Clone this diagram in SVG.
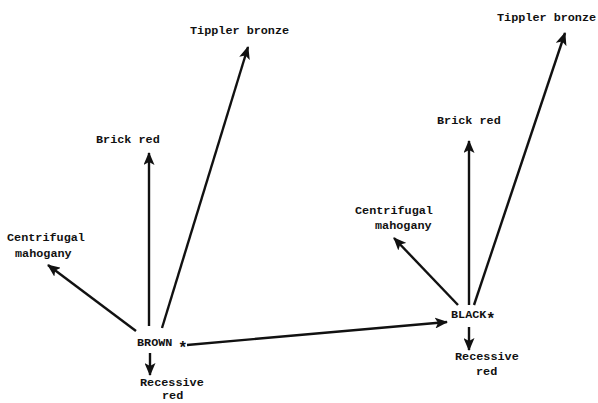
<svg xmlns="http://www.w3.org/2000/svg" width="598" height="403" viewBox="0 0 598 403">
<style>
text{font-family:"Liberation Mono","DejaVu Sans Mono",monospace;font-size:11.8px;font-weight:bold;fill:#111}
text.s{font-size:16px}
.c line{stroke:#111;stroke-width:2.4;marker-end:url(#ah)}
</style>
<defs>
<marker id="ah" viewBox="0 0 13 11" refX="12" refY="5.5" markerWidth="13" markerHeight="11" markerUnits="userSpaceOnUse" orient="auto">
<path d="M0,0 L13,5.5 L0,11 L3,5.5 Z" fill="#111"/>
</marker>
</defs>
<rect width="598" height="403" fill="#fff"/>
<g id="brown"><text x="137" y="346">BROWN</text><text class="s" x="178" y="353">*</text></g>
<g id="black"><text x="451" y="318">BLACK</text><text class="s" x="486" y="324">*</text></g>
<g id="tippler-l"><text x="190" y="34">Tippler bronze</text></g>
<g id="brick-l"><text x="96" y="143">Brick red</text></g>
<g id="centri-l"><text x="7" y="241">Centrifugal</text><text x="15" y="257">mahogany</text></g>
<g id="reces-l"><text x="140" y="386">Recessive</text><text x="162" y="399">red</text></g>
<g id="tippler-r"><text x="497" y="21">Tippler bronze</text></g>
<g id="brick-r"><text x="437" y="124">Brick red</text></g>
<g id="centri-r"><text x="355" y="214">Centrifugal</text><text x="375" y="229">mahogany</text></g>
<g id="reces-r"><text x="455" y="360">Recessive</text><text x="476" y="375">red</text></g>
<g class="c" id="connectors">
<line x1="149" y1="326" x2="149" y2="153"/>
<line x1="162" y1="328" x2="248" y2="47"/>
<line x1="136" y1="331" x2="48" y2="265"/>
<line x1="150" y1="353" x2="150" y2="375"/>
<line x1="187" y1="345" x2="447" y2="322"/>
<line x1="469" y1="305" x2="469" y2="141"/>
<line x1="474" y1="305" x2="565" y2="33"/>
<line x1="458" y1="305" x2="394" y2="238"/>
<line x1="469" y1="327" x2="469" y2="350"/>
</g>
</svg>
